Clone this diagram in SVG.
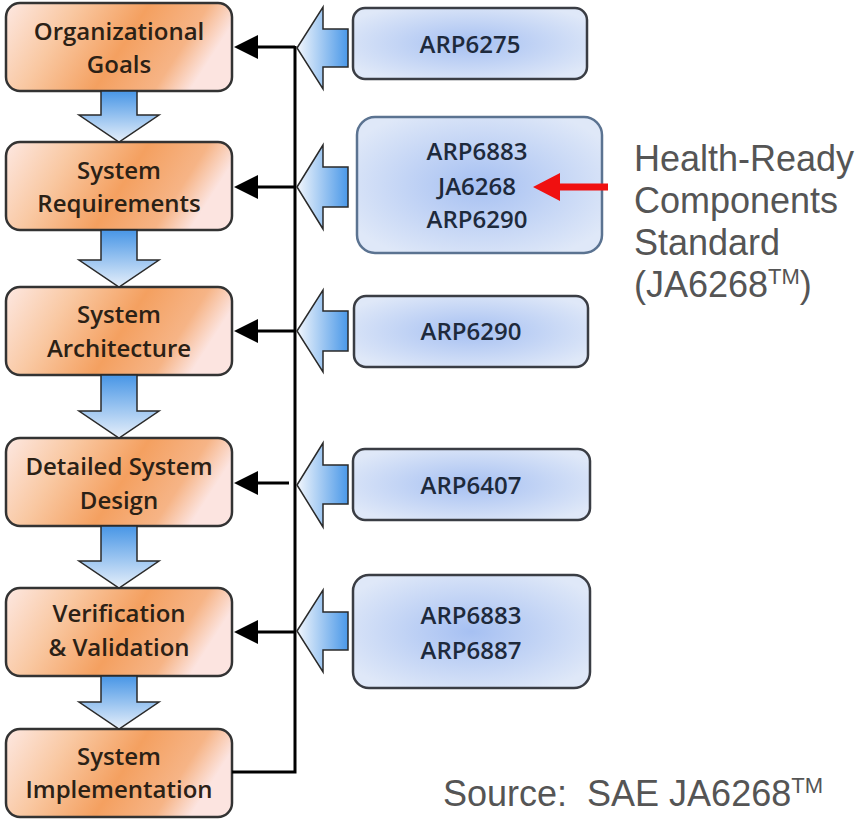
<svg xmlns="http://www.w3.org/2000/svg" width="862" height="819" viewBox="0 0 862 819">
<defs>
  <linearGradient id="gOrange" x1="0" y1="0" x2="1" y2="0.25">
    <stop offset="0" stop-color="#fde8e2"/>
    <stop offset="0.3" stop-color="#f9c8a2"/>
    <stop offset="0.6" stop-color="#f4a060"/>
    <stop offset="0.85" stop-color="#f6b486"/>
    <stop offset="1" stop-color="#fce4e0"/>
  </linearGradient>
  <radialGradient id="gBlue" cx="0.5" cy="0.5" r="0.6">
    <stop offset="0" stop-color="#a6c0f2"/>
    <stop offset="1" stop-color="#dfe8f8"/>
  </radialGradient>
  <linearGradient id="gArrowL" x1="0" y1="0" x2="1" y2="0">
    <stop offset="0" stop-color="#f2f6fc"/>
    <stop offset="1" stop-color="#4a98e8"/>
  </linearGradient>
  <linearGradient id="gArrowD" x1="0" y1="0" x2="0" y2="1">
    <stop offset="0" stop-color="#4896e6"/>
    <stop offset="1" stop-color="#e6effa"/>
  </linearGradient>
  <marker id="mBlack" viewBox="0 0 24 24" refX="0" refY="12" markerWidth="24" markerHeight="24" markerUnits="userSpaceOnUse" orient="auto-start-reverse">
    <path d="M0,0 L24,12 L0,24 Z" fill="#000"/>
  </marker>
  <style>
    .step { fill: url(#gOrange); stroke: #333; stroke-width: 2.5; }
    .std { fill: url(#gBlue); stroke: #3a3d44; stroke-width: 2.5; }
    .lt { font-family: "Open Sans", "Liberation Sans", sans-serif; font-weight: 600; font-size: 24px; fill: #2b2116; text-anchor: middle; }
    .rt { font-family: "Open Sans", "Liberation Sans", sans-serif; font-weight: 600; font-size: 24px; fill: #1e2a3c; text-anchor: middle; }
    .note { font-family: "Liberation Sans", Arial, sans-serif; font-size: 36px; fill: #555; }
    .blk { fill: none; stroke: #000; stroke-width: 3; }
    .la { fill: url(#gArrowL); stroke: #2a2a2a; stroke-width: 1.5; }
    .da { fill: url(#gArrowD); stroke: #2a2a2a; stroke-width: 1.5; }
  </style>
</defs>
<rect width="862" height="819" fill="#fff"/>

<g id="n-org-goals">
  <rect class="step" x="6" y="3" width="226" height="88" rx="14"/>
  <text class="lt" x="119" y="40">Organizational</text>
  <text class="lt" x="119" y="73">Goals</text>
</g>
<g id="n-sys-req">
  <rect class="step" x="6" y="142" width="226" height="88" rx="14"/>
  <text class="lt" x="119" y="179">System</text>
  <text class="lt" x="119" y="212">Requirements</text>
</g>
<g id="n-sys-arch">
  <rect class="step" x="6" y="287" width="226" height="88" rx="14"/>
  <text class="lt" x="119" y="323">System</text>
  <text class="lt" x="119" y="357">Architecture</text>
</g>
<g id="n-detailed">
  <rect class="step" x="6" y="438" width="226" height="88" rx="14"/>
  <text class="lt" x="119" y="475">Detailed System</text>
  <text class="lt" x="119" y="509">Design</text>
</g>
<g id="n-vv">
  <rect class="step" x="6" y="588" width="226" height="88" rx="14"/>
  <text class="lt" x="119" y="622">Verification</text>
  <text class="lt" x="119" y="656">&amp; Validation</text>
</g>
<g id="n-impl">
  <rect class="step" x="6" y="729" width="226" height="88" rx="14"/>
  <text class="lt" x="119" y="765">System</text>
  <text class="lt" x="119" y="798">Implementation</text>
</g>

<g id="s-arp6275">
  <rect class="std" x="353" y="8" width="234" height="71" rx="12"/>
  <text class="rt" x="470" y="53">ARP6275</text>
</g>
<g id="s-group2">
  <rect class="std" x="357" y="117" width="245" height="136" rx="18" style="stroke:#5b7391"/>
  <text class="rt" x="477" y="160">ARP6883</text>
  <text class="rt" x="477" y="195">JA6268</text>
  <text class="rt" x="477" y="228">ARP6290</text>
</g>
<g id="s-arp6290">
  <rect class="std" x="354" y="296" width="234" height="71" rx="12"/>
  <text class="rt" x="471" y="340">ARP6290</text>
</g>
<g id="s-arp6407">
  <rect class="std" x="353" y="449" width="237" height="71" rx="12"/>
  <text class="rt" x="471" y="494">ARP6407</text>
</g>
<g id="s-group5">
  <rect class="std" x="353" y="575" width="237" height="113" rx="16"/>
  <text class="rt" x="471" y="624">ARP6883</text>
  <text class="rt" x="471" y="659">ARP6887</text>
</g>

<g id="note">
  <text class="note" x="634" y="171">Health-Ready</text>
  <text class="note" x="634" y="213">Components</text>
  <text class="note" x="634" y="255">Standard</text>
  <text class="note" x="634" y="297">(JA6268<tspan font-size="22" dy="-13">TM</tspan><tspan dy="13">)</tspan></text>
</g>
<g id="source">
  <text class="note" x="443" y="806" xml:space="preserve">Source:  SAE JA6268<tspan font-size="22" dy="-13">TM</tspan></text>
</g>

<g id="connectors">
  <path class="da" d="M101,91 H137 V115 H159 L119,142 L79,115 H101 Z"/>
  <path class="da" d="M101,230 H137 V260 H159 L119,287 L79,260 H101 Z"/>
  <path class="da" d="M101,375 H137 V411 H159 L119,438 L79,411 H101 Z"/>
  <path class="da" d="M101,526 H137 V561 H159 L119,588 L79,561 H101 Z"/>
  <path class="da" d="M101,676 H137 V702 H159 L119,729 L79,702 H101 Z"/>
  <path class="blk" d="M295,46 V772 H232"/>
  <line class="blk" x1="295" y1="47" x2="258" y2="47" marker-end="url(#mBlack)"/>
  <line class="blk" x1="295" y1="187" x2="258" y2="187" marker-end="url(#mBlack)"/>
  <line class="blk" x1="295" y1="331" x2="258" y2="331" marker-end="url(#mBlack)"/>
  <line class="blk" x1="289" y1="483" x2="258" y2="483" marker-end="url(#mBlack)"/>
  <line class="blk" x1="295" y1="632" x2="258" y2="632" marker-end="url(#mBlack)"/>
  <path class="la" d="M297,48 L323,7 V29 H348 V67 H323 V89 Z"/>
  <path class="la" d="M297,187 L323,145 V167 H348 V207 H323 V229 Z"/>
  <path class="la" d="M297,331 L323,290 V311 H348 V351 H323 V372 Z"/>
  <path class="la" d="M297,485 L323,443 V465 H348 V504 H323 V527 Z"/>
  <path class="la" d="M297,631 L323,590 V612 H348 V650 H323 V672 Z"/>
  <path d="M533,187 L560,173 V183.5 H608 V190.5 H560 V201 Z" fill="#f01010"/>
</g>
</svg>
